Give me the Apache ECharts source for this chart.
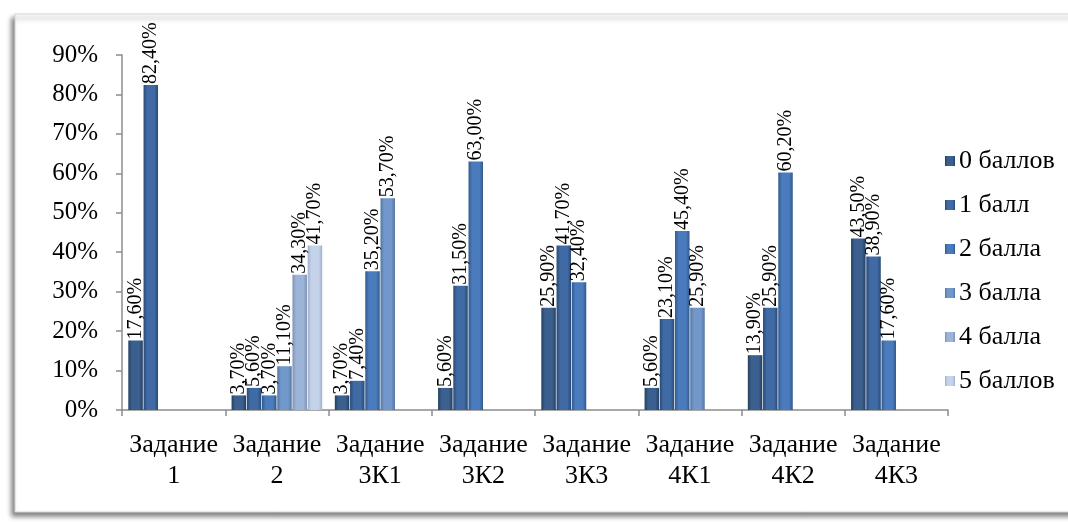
<!DOCTYPE html>
<html>
<head>
<meta charset="utf-8">
<script src="https://cdn.jsdelivr.net/npm/echarts@6/dist/echarts.min.js"></script>
<style>
  html, body { margin: 0; padding: 0; background: #fff; }
  #chart { width: 1068px; height: 522px; }
</style>
</head>
<body>
<div id="chart"></div>
<script>
const categories = ['Задание\n1', 'Задание\n2', 'Задание\n3К1', 'Задание\n3К2', 'Задание\n3К3', 'Задание\n4К1', 'Задание\n4К2', 'Задание\n4К3']
const seriesNames = ['0 баллов', '1 балл', '2 балла', '3 балла', '4 балла', '5 баллов']
// values in %, null = no bar
const ball0 = [17.6, 3.7, 3.7, 5.6, 25.9, 5.6, 13.9, 43.5]
const ball1 = [82.4, 5.6, 7.4, 31.5, 41.7, 23.1, 25.9, 38.9]
const ball2 = [null, 3.7, 35.2, 63.0, 32.4, 45.4, 60.2, 17.6]
const ball3 = [null, 11.1, 53.7, null, null, 25.9, null, null]
const ball4 = [null, 34.3, null, null, null, null, null, null]
const ball5 = [null, 41.7, null, null, null, null, null, null]
const yTicks = [0, 10, 20, 30, 40, 50, 60, 70, 80, 90]

const allData = [ball0, ball1, ball2, ball3, ball4, ball5]
const colors = ['#3b5f8f', '#3f6aa3', '#4a7bbd', '#7197cb', '#9db4d9', '#c5d3ea']
const edge = ['#24405f', '#2a4a78', '#33598c', '#55779f', '#7d93b5', '#9fb0cc']
const font = '"Liberation Serif", "Times New Roman", serif'

const chart = echarts.init(document.getElementById('chart'))

const series = seriesNames.map((name, i) => ({
  name: name,
  type: 'bar',
  data: allData[i],
  barWidth: 14.5,
  barGap: '5%',
  itemStyle: {
    color: new echarts.graphic.LinearGradient(0, 0, 1, 0, [
      { offset: 0, color: edge[i] },
      { offset: 0.25, color: colors[i] },
      { offset: 0.75, color: colors[i] },
      { offset: 1, color: edge[i] }
    ])
  },
  label: {
    show: true,
    position: 'top',
    rotate: 90,
    align: 'left',
    verticalAlign: 'middle',
    distance: 1,
    fontFamily: font,
    fontSize: 20,
    color: '#000',
    formatter: p => p.value.toFixed(2).replace('.', ',') + '%'
  }
}))

const option = {
  animation: false,
  color: colors,
  graphic: [{
    type: 'rect',
    z: -10,
    shape: { x: 15, y: 14, width: 1200, height: 498 },
    style: {
      fill: '#fff',
      stroke: '#d4d4d4',
      lineWidth: 1,
      shadowBlur: 5,
      shadowColor: 'rgba(0,0,0,0.5)',
      shadowOffsetX: -3,
      shadowOffsetY: 4
    }
  }],
  grid: { left: 122, right: 120, top: 55, bottom: 112 },
  legend: {
    orient: 'vertical',
    left: 940,
    top: 143,
    itemWidth: 10,
    itemHeight: 10,
    itemGap: 18,
    icon: 'rect',
    data: seriesNames,
    textStyle: { fontFamily: font, fontSize: 26, color: '#000', padding: [0, 0, 0, -1] }
  },
  xAxis: {
    type: 'category',
    data: categories,
    axisLine: { lineStyle: { color: '#8c8c8c', width: 1.5 } },
    axisTick: { show: true, length: 6, lineStyle: { color: '#8c8c8c', width: 1.5 } },
    axisLabel: {
      interval: 0,
      margin: 20,
      fontFamily: font,
      fontSize: 26,
      lineHeight: 31,
      color: '#000'
    }
  },
  yAxis: {
    type: 'value',
    min: yTicks[0],
    max: yTicks[yTicks.length - 1],
    interval: 10,
    axisLine: { show: true, lineStyle: { color: '#8c8c8c', width: 1.5 } },
    axisTick: { show: true, length: 6, lineStyle: { color: '#8c8c8c', width: 1.5 } },
    splitLine: { show: false },
    axisLabel: {
      margin: 24,
      fontFamily: font,
      fontSize: 25,
      color: '#000',
      formatter: '{value}%'
    }
  },
  series: series
}

chart.setOption(option)
</script>
</body>
</html>
